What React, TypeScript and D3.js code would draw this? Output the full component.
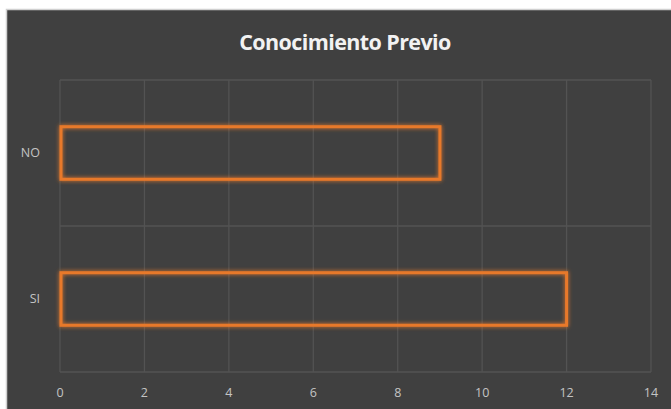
import * as d3 from 'd3';

const categories = ['NO', 'SI'];
const values = [9, 12];
const xTicks = [0, 2, 4, 6, 8, 10, 12, 14];
const title = 'Conocimiento Previo';

const W = 671;
const H = 409;
const margin = { top: 80, right: 20, bottom: 37, left: 60 };
const plotW = 651 - margin.left;
const plotH = H - margin.top - margin.bottom;

export default function App() {
  const x = d3.scaleLinear().domain([0, 14]).range([0, plotW]);
  const y = d3.scaleBand<string>()
    .domain(categories)
    .range([0, plotH])
    .paddingInner(0.64)
    .paddingOuter(0.32);

  const orange = '#e8792b';
  const gridColor = '#535353';
  const textColor = '#c4c4c4';
  const step = y.step();
  const font = "'Open Sans', 'Noto Sans', sans-serif";

  return (
    <svg width={W} height={H} style={{ position: 'absolute', left: 0, top: 0, display: 'block' }}>
      <defs>
        <filter id="glow" x="-10%" y="-30%" width="120%" height="160%">
          <feGaussianBlur in="SourceGraphic" stdDeviation="2.2" result="blur" />
          <feMerge>
            <feMergeNode in="blur" />
            <feMergeNode in="SourceGraphic" />
          </feMerge>
        </filter>
      </defs>
      <rect x={0} y={0} width={W} height={H} fill="#ffffff" />
      <rect x={6.5} y={9.5} width={W} height={H} fill="#404040" stroke="#d0d0d0" strokeWidth={1.5} />
      <text
        x={345}
        y={50}
        textAnchor="middle"
        fill="#f2f2f2"
        fontFamily={font}
        fontWeight="bold"
        fontSize={21.5}
        letterSpacing={-0.6}
      >
        {title}
      </text>
      <g transform={`translate(${margin.left},${margin.top})`}>
        {/* vertical gridlines */}
        {xTicks.map(t => (
          <line key={'v' + t} x1={x(t)} x2={x(t)} y1={0} y2={plotH} stroke={gridColor} strokeWidth={1.3} />
        ))}
        {/* horizontal gridlines at category boundaries */}
        {d3.range(categories.length + 1).map(i => (
          <line key={'h' + i} x1={0} x2={plotW} y1={i * step} y2={i * step} stroke={gridColor} strokeWidth={1.3} />
        ))}
        {categories.map((c, i) => (
          <rect
            key={c}
            x={x(0) + 1}
            y={y(c)}
            width={x(values[i]) - x(0) - 1}
            height={y.bandwidth()}
            fill="none"
            stroke={orange}
            strokeWidth={3}
            filter="url(#glow)"
          />
        ))}
        {categories.map(c => (
          <text
            key={'l' + c}
            x={-20}
            y={(y(c) ?? 0) + y.bandwidth() / 2}
            dy="0.35em"
            textAnchor="end"
            fill={textColor}
            fontFamily={font}
            fontSize={12.5}
          >
            {c}
          </text>
        ))}
        {xTicks.map(t => (
          <text
            key={'t' + t}
            x={x(t)}
            y={plotH + 21}
            dy="0.35em"
            textAnchor="middle"
            fill={textColor}
            fontFamily={font}
            fontSize={12.5}
          >
            {t}
          </text>
        ))}
      </g>
    </svg>
  );
}
